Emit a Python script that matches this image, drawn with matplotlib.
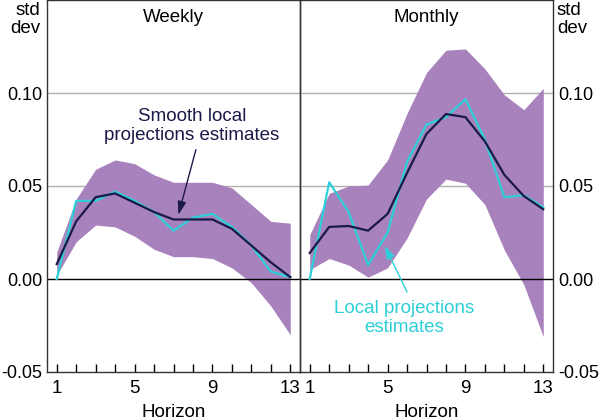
import matplotlib.pyplot as plt
import matplotlib.ticker as mticker

plt.rcParams["font.family"] = ["Liberation Sans", "DejaVu Sans"]

horizon = list(range(1, 14))

# Weekly panel
wk_smooth = [0.008, 0.031, 0.044, 0.046, 0.041, 0.036, 0.032, 0.032, 0.032, 0.027, 0.018, 0.009, 0.001]
wk_lp = [0.000, 0.042, 0.042, 0.047, 0.042, 0.036, 0.026, 0.033, 0.035, 0.028, 0.018, 0.004, 0.001]
wk_upper = [0.0145, 0.043, 0.059, 0.064, 0.062, 0.056, 0.052, 0.052, 0.052, 0.049, 0.040, 0.031, 0.030]
wk_lower = [0.002, 0.020, 0.029, 0.028, 0.023, 0.016, 0.012, 0.012, 0.011, 0.006, -0.002, -0.0145, -0.030]

# Monthly panel
mo_smooth = [0.014, 0.028, 0.0285, 0.026, 0.035, 0.057, 0.078, 0.0887, 0.087, 0.074, 0.056, 0.0446, 0.0375]
mo_lp = [0.000, 0.052, 0.036, 0.0075, 0.025, 0.063, 0.083, 0.087, 0.0967, 0.075, 0.044, 0.045, 0.0385]
mo_upper = [0.0237, 0.046, 0.050, 0.0505, 0.064, 0.089, 0.111, 0.123, 0.1237, 0.113, 0.099, 0.091, 0.1025]
mo_lower = [0.005, 0.011, 0.0075, 0.001, 0.006, 0.022, 0.043, 0.0537, 0.0515, 0.040, 0.0156, -0.003, -0.031]

band_col = "#A882BC"
navy = "#1B1948"
cyan = "#2DCFD8"
fs = 13.5

fig = plt.figure(figsize=(6, 4.2), dpi=100)
ax1 = fig.add_axes([47 / 600, 48 / 420, 253 / 600, 372 / 420])
ax2 = fig.add_axes([300 / 600, 48 / 420, 253 / 600, 372 / 420])

panels = [
    (ax1, "Weekly", wk_smooth, wk_lp, wk_upper, wk_lower),
    (ax2, "Monthly", mo_smooth, mo_lp, mo_upper, mo_lower),
]

for ax, title, sm, lp, up, lo in panels:
    ax.fill_between(horizon, lo, up, color=band_col, lw=0, zorder=1)
    for g in [0.05, 0.10]:
        ax.axhline(g, color="#B0B0B0", lw=1, zorder=0)
    ax.axhline(0, color="black", lw=1, zorder=2)
    ax.plot(horizon, lp, color=cyan, lw=1.6, zorder=3)
    ax.plot(horizon, sm, color=navy, lw=1.6, zorder=4)
    ax.set_xlim(0.5, 13.5)
    ax.set_ylim(-0.05, 0.15)
    ax.set_xticks([1, 5, 9, 13])
    ax.xaxis.set_minor_locator(mticker.MultipleLocator(1))
    ax.tick_params(axis="x", which="both", direction="in", length=6, width=1,
                   labelsize=fs, pad=6)
    ax.set_yticks([-0.05, 0.0, 0.05, 0.10])
    ax.yaxis.set_major_formatter(mticker.FormatStrFormatter("%.2f"))
    ax.set_xlabel("Horizon", fontsize=fs, labelpad=5)
    ax.text(0.5, 0.975, title, transform=ax.transAxes, ha="center", va="top", fontsize=fs)
    for s in ax.spines.values():
        s.set_linewidth(1)
        s.set_color("#333333")

ax1.tick_params(axis="y", length=0, labelsize=13, pad=3.5)
ax2.yaxis.tick_right()
ax2.tick_params(axis="y", length=0, labelsize=13, pad=3.5)
ax2.patch.set_alpha(0)

fig.text(40 / 600, 1 - 2 / 420, "std\ndev", ha="right", va="top", fontsize=fs, linespacing=1.1)
fig.text(557 / 600, 1 - 2 / 420, "std\ndev", ha="left", va="top", fontsize=fs, linespacing=1.1)

# labels and arrows
ax1.text(7.95, 0.0825, "Smooth local\nprojections estimates", ha="center", va="center",
         fontsize=fs, color=navy, linespacing=1.15, zorder=6)
ax1.annotate("", xy=(7.25, 0.0345), xytext=(8.15, 0.0695),
             arrowprops=dict(arrowstyle="-|>,head_length=0.8,head_width=0.25", color=navy,
                             lw=1, shrinkA=0, shrinkB=0), zorder=6)
ax2.text(5.85, -0.021, "Local projections\nestimates", ha="center", va="center",
         fontsize=fs, color=cyan, linespacing=1.15, zorder=6)
ax2.annotate("", xy=(4.85, 0.018), xytext=(6.0, -0.007),
             arrowprops=dict(arrowstyle="-|>,head_length=0.8,head_width=0.25", color=cyan,
                             lw=1, shrinkA=0, shrinkB=0), zorder=6)

fig.savefig("out.png", dpi=100)
